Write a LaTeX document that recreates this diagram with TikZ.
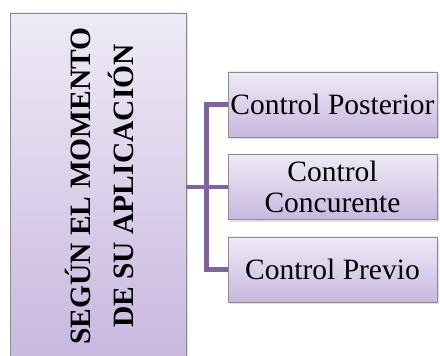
\documentclass[tikz,border=0pt]{standalone}
\usepackage{fontspec}
\setmainfont{Liberation Serif}
\usetikzlibrary{shadows}
\definecolor{lavtop}{HTML}{EEEAF6}
\definecolor{lavbot}{HTML}{C8B8DF}
\definecolor{edgegray}{HTML}{8C8C8C}
\definecolor{linkpurple}{HTML}{8064A2}
\tikzset{
  panel/.style={draw=edgegray, line width=0.8pt, top color=lavtop, bottom color=lavbot,
    drop shadow={opacity=0.25, shadow xshift=1.5pt, shadow yshift=-2.5pt}},
  headbox/.style={panel, minimum width=176pt, minimum height=348pt, inner sep=0pt},
  itembox/.style={panel, minimum width=209pt, minimum height=65pt, inner sep=0pt,
    align=center, font=\fontsize{29.5}{31}\selectfont},
  link/.style={draw=linkpurple, line width=4.5pt},
}
\begin{document}
\begin{tikzpicture}[x=1pt,y=1pt]
\useasboundingbox (0,0) rectangle (440,356);
\clip (0,0) rectangle (440,356);
\fill[white] (0,0) rectangle (440,356);
% heading column
\node[headbox] (head) at (98,169) {};
\node[rotate=90, align=center, font=\bfseries\fontsize{29.5}{43}\selectfont]
  (headtxt) at (99,170) {SEGÚN EL MOMENTO\\DE SU APLICACIÓN};
% the three kinds of control
\node[itembox] (post) at (332.5,251.5) {Control Posterior};
\node[itembox] (conc) at (332.5,169) {Control\\Concurente};
\node[itembox] (prev) at (332.5,86.5) {Control Previo};
% bracket connector
\coordinate (fork) at (206.5,169);
\draw[link] (head.east |- fork) -- (fork);
\draw[link, line join=miter] (post.west) -| (fork) |- (prev.west);
\draw[link] (fork) -- (conc.west);
\end{tikzpicture}
\end{document}
